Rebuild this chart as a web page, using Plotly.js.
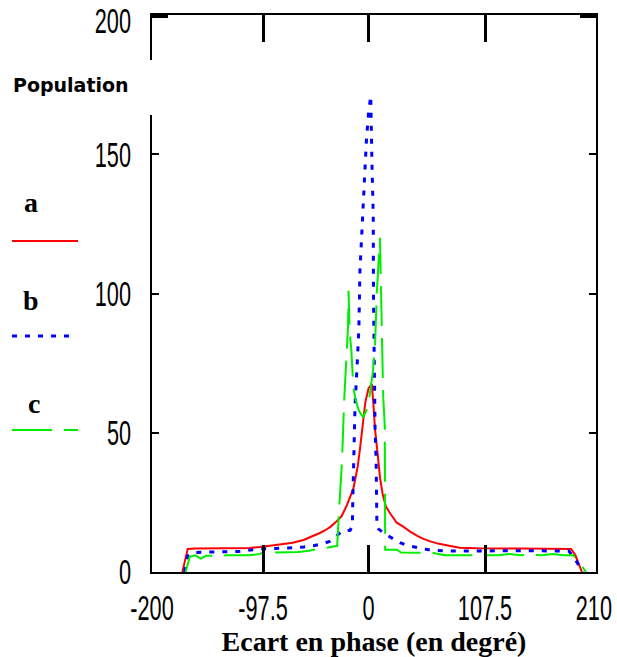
<!DOCTYPE html>
<html>
<head>
<meta charset="utf-8">
<script src="https://cdn.plot.ly/plotly-3.0.1.min.js"></script>
<style>html,body{margin:0;padding:0;background:#fff;}#chart{width:617px;height:657px;}</style>
</head>
<body>
<div id="chart"></div>
<script>
// Series a (red, solid)
const xA = [-172,-167,-160,-150,-140,-130,-120,-110,-100,-90,-80,-70,-60,-50,-45,-40,-35,-30,-25,-20,-17,-14,-12,-10,-8,-6,-3,0,3,4.5,6,8.5,10.5,13,16,20,26,32,38,45,50,57,64,72,84,100,110,120,130,140,150,160,170,180,187,191,194,197];
const yA = [0,8.3,8.4,8.4,8.4,8.5,8.5,8.6,9,9.5,10,10.5,11.5,13,14,15,16.3,18,20,24,27,30,34,38,44,50,61,66,67.5,60,51,42,34,28,23.5,21,17.7,16.3,14.6,13,12,11,10.2,9.6,8.7,8.5,8.4,8.4,8.4,8.4,8.4,8.4,8.4,8.4,8.3,6,3,0];
// Series b (blue, dotted)
const xB = [-170,-167,-162,-150,-140,-130,-120,-110,-100,-90,-80,-70,-60,-51,-42,-36,-30,-24,-17,-15,-14.5,-13.5,-12.5,-10.5,-9,-8,-5.5,-4,-2,0,2,3,4.3,4.5,5,6,7,7.7,9,10.5,14,18,24,29,36,45,55,70,85,100,115,130,145,160,175,185,190,194,198];
const yB = [0,5.8,7,7.2,7.2,7.3,7.4,7.8,8.3,8.4,8.5,8.7,9,9.4,10.2,11,12.8,14.8,15,16.6,27,51,60,75,87,108,128,141,155,165,171,149,128,100,75,51,39,16.6,15.5,15,14,13,11.5,10.5,9.5,8.7,8,7.6,7.5,7.5,7.6,7.5,7.6,7.6,7.5,7.5,5,2.5,0];
// Series c (green, long dash)
const xC = [-169,-165,-160,-155,-150,-140,-130,-120,-110,-100,-95,-85,-75,-65,-55,-47,-40,-33,-30,-29,-27,-24.5,-22.5,-20.5,-19,-18.5,-17.5,-16,-15,-14,-12,-9,-5,-2,1,4,6,7.7,10.5,11.5,12.5,13.5,15,15.3,20,26,30,40,50,60,70,80,90,100,110,120,130,140,150,160,170,180,189,193,197,201];
const yC = [0,5.5,6,4.8,5.8,6,6,6,6,6.5,7.6,7,7,7.2,7.6,8.3,8.6,9,9.4,9.4,24,40,62,75,88,101,86,80,73,66,62,58,55.5,58,63.5,72,82,101,120,100,78,63,52,8,8,8,7,7,7,6.8,6,6,5.8,5.8,6,6,6.5,6,6.2,6,6.5,6,6,4,2,0];

const xTicks = [-200,-97.5,0,107.5,210];
const xTickText = ['-200','-97.5','0','107.5','210'];
const yTicks = [0,50,100,150,200];
const yTickText = ['0','50','100','150','200'];
const seriesNames = ['a','b','c'];

const W = 617, H = 657;
const L = 152, R = 596, T = 15, B = 572;
const px = x => (x - L) / (R - L);
const py = y => (B - y) / (B - T);

const tickFont = {family: 'Liberation Sans, Arial, sans-serif', size: 35, color: '#000'};
const serifBold = {family: 'Liberation Serif, DejaVu Serif, serif', size: 28, color: '#000', weight: 'bold'};

const traces = [
  {x: xA, y: yA, name: seriesNames[0], type: 'scatter', mode: 'lines', line: {color: '#ff0000', width: 2}},
  {x: xB, y: yB, name: seriesNames[1], type: 'scatter', mode: 'lines', line: {color: '#0000ff', width: 3, dash: '5px,8px'}},
  {x: xC, y: yC, name: seriesNames[2], type: 'scatter', mode: 'lines', line: {color: '#00ee00', width: 2, dash: '40px,12px'}}
];

const layout = {
  width: W, height: H,
  margin: {l: L, r: W - R, t: T, b: H - B},
  paper_bgcolor: '#fff', plot_bgcolor: '#fff',
  showlegend: false,
  xaxis: {
    range: [-200, 210], tickvals: xTicks, ticktext: xTickText,
    ticks: 'inside', ticklen: 27, tickwidth: 3, tickcolor: '#000',
    showline: true, linecolor: '#000', linewidth: 2, mirror: 'allticks',
    showgrid: false, zeroline: false, tickfont: tickFont, ticklabelstandoff: 4,
    ticklabeloverflow: 'allow',
    title: {text: 'Ecart en phase (en degré)', font: serifBold, standoff: 2}
  },
  yaxis: {
    range: [0, 200], tickvals: yTicks, ticktext: yTickText,
    ticks: 'inside', ticklen: 7, tickwidth: 2, tickcolor: '#000',
    showline: true, linecolor: '#000', linewidth: 2, mirror: 'allticks',
    showgrid: false, zeroline: false, tickfont: tickFont, ticklabelstandoff: 12,
    ticklabeloverflow: 'allow'
  },
  shapes: [
    {type: 'rect', xref: 'paper', yref: 'paper', x0: px(140), x1: px(160), y0: py(115), y1: py(60), fillcolor: '#fff', line: {width: 0}, layer: 'above'},
    {type: 'rect', xref: 'paper', yref: 'paper', x0: px(151), x1: px(168), y0: py(18), y1: py(13), fillcolor: '#000', line: {width: 0}, layer: 'above'},
    {type: 'rect', xref: 'paper', yref: 'paper', x0: px(580), x1: px(597), y0: py(18), y1: py(13), fillcolor: '#000', line: {width: 0}, layer: 'above'},
    {type: 'line', xref: 'paper', yref: 'paper', x0: px(12), x1: px(78), y0: py(241), y1: py(241), line: {color: '#ff0000', width: 2}},
    {type: 'line', xref: 'paper', yref: 'paper', x0: px(12), x1: px(72), y0: py(336), y1: py(336), line: {color: '#0000ff', width: 3, dash: '5px,8px'}},
    {type: 'line', xref: 'paper', yref: 'paper', x0: px(12), x1: px(78), y0: py(430), y1: py(430), line: {color: '#00ee00', width: 2, dash: '40px,12px'}}
  ],
  annotations: [
    {text: 'Population', xref: 'paper', yref: 'paper', x: px(71), y: py(85), xanchor: 'center', yanchor: 'middle', showarrow: false,
     font: {family: 'DejaVu Sans, sans-serif', size: 19, color: '#000', weight: 'bold'}},
    {text: seriesNames[0], xref: 'paper', yref: 'paper', x: px(31), y: py(203), xanchor: 'center', yanchor: 'middle', showarrow: false, font: serifBold},
    {text: seriesNames[1], xref: 'paper', yref: 'paper', x: px(31), y: py(300), xanchor: 'center', yanchor: 'middle', showarrow: false, font: serifBold},
    {text: seriesNames[2], xref: 'paper', yref: 'paper', x: px(34), y: py(404), xanchor: 'center', yanchor: 'middle', showarrow: false, font: serifBold}
  ]
};

Plotly.newPlot('chart', traces, layout, {staticPlot: true, displayModeBar: false}).then(function (gd) {
  // condense tick labels horizontally, like the narrow bitmap font of the original,
  // and keep them inside the page
  const svgBox = gd.querySelector('svg.main-svg').getBoundingClientRect();
  gd.querySelectorAll('.xtick text, .ytick text').forEach(function (t) {
    const w = t.getComputedTextLength();
    t.setAttribute('textLength', (w * 0.62).toFixed(1));
    t.setAttribute('lengthAdjust', 'spacingAndGlyphs');
    const b = t.getBoundingClientRect();
    let dx = 0, dy = 0;
    if (b.right > svgBox.right - 5) dx = (svgBox.right - 5) - b.right;
    if (b.top < svgBox.top + 1) dy = (svgBox.top + 1) - b.top;
    if (dx || dy) {
      t.setAttribute('x', (parseFloat(t.getAttribute('x') || 0) + dx).toFixed(1));
      t.setAttribute('y', (parseFloat(t.getAttribute('y') || 0) + dy).toFixed(1));
    }
  });
});
</script>
</body>
</html>
